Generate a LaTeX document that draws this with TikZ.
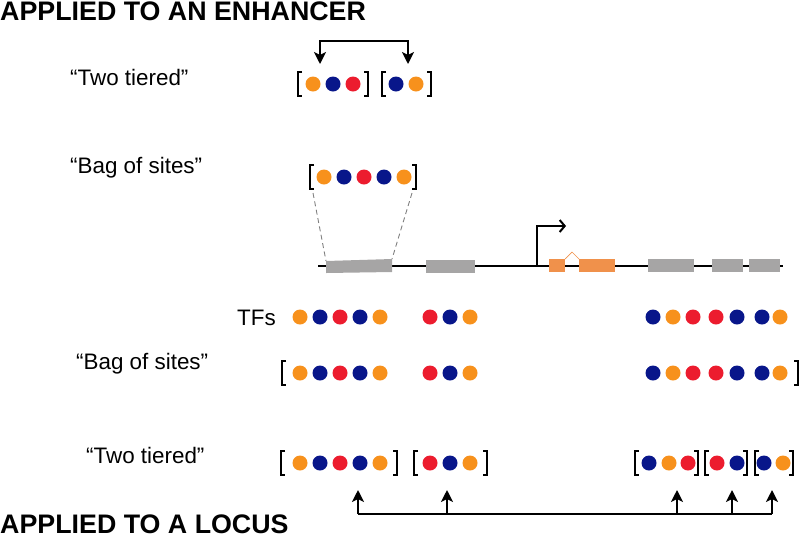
\documentclass[tikz,border=0pt]{standalone}
\usepackage{fontspec}
\setmainfont{Liberation Sans}
\usetikzlibrary{arrows.meta}
\definecolor{tfo}{RGB}{247,145,28}
\definecolor{tfb}{RGB}{8,22,138}
\definecolor{tfr}{RGB}{236,28,46}
\definecolor{boxg}{RGB}{166,165,165}
\definecolor{exo}{RGB}{240,145,75}
\tikzset{
  dot/.style={circle,fill=#1,inner sep=0pt,minimum size=15pt,draw=none},
  brk/.style={line width=2.8pt,black},
  lb/.pic={\draw[brk] (4,-12) -- (0,-12) -- (0,12) -- (4,12);},
  rb/.pic={\draw[brk] (-4,-12) -- (0,-12) -- (0,12) -- (-4,12);},
  lbl/.style={font=\fontsize{22.4}{25}\selectfont,anchor=base west,inner sep=0pt},
  ttl/.style={font=\bfseries\fontsize{26.8}{29}\selectfont,anchor=base west,inner sep=0pt},
  gbox/.style={fill=boxg,draw=none},
  ebox/.style={fill=exo,draw=none},
  conn/.style={line width=2pt,black,-{Stealth[length=12pt,width=12pt,inset=3pt]}},
  dashl/.style={gray,line width=0.9pt,dash pattern=on 5pt off 3.5pt},
}
\begin{document}
\begin{tikzpicture}[x=1pt,y=-1pt]
\useasboundingbox (0,0) rectangle (800,539);
% titles
\node[ttl] (t1) at (0,20) {APPLIED TO AN ENHANCER};
\node[ttl] (t2) at (0,533.5) {APPLIED TO A LOCUS};
% labels
\node[lbl] (l1) at (70,85) {“Two tiered”};
\node[lbl] (l2) at (70,173) {“Bag of sites”};
\node[lbl] (l3) at (237,325) {TFs};
\node[lbl] (l4) at (76,369) {“Bag of sites”};
\node[lbl] (l5) at (86,463) {“Two tiered”};
% enhancer two tiered
\pic at (298,84) {lb}; \pic at (368,84) {rb};
\pic at (382,84) {lb}; \pic at (431,84) {rb};
\node[dot=tfo] (a1) at (313,84) {};
\node[dot=tfb] (a2) at (333,84) {};
\node[dot=tfr] (a3) at (353,84) {};
\node[dot=tfb] (a4) at (396,84) {};
\node[dot=tfo] (a5) at (416,84) {};
\coordinate (ta) at (320,64);
\coordinate (tb) at (408,64);
\draw[line width=2pt,{Stealth[length=12pt,width=12pt,inset=3pt]}-{Stealth[length=12pt,width=12pt,inset=3pt]}] (ta) -- ++(0,-23) -| (tb);
% enhancer bag of sites
\pic at (310,177) {lb}; \pic at (416,177) {rb};
\node[dot=tfo] (b1) at (324,177) {};
\node[dot=tfb] (b2) at (344,177) {};
\node[dot=tfr] (b3) at (364,177) {};
\node[dot=tfb] (b4) at (384,177) {};
\node[dot=tfo] (b5) at (404,177) {};
% gene
\draw[line width=2pt] (318,266) -- (783,266);
\fill[boxg] (326,261) -- (392,259) -- (392,272) -- (326,273) -- cycle;
\coordinate (g1l) at (326,261);
\coordinate (g1r) at (392,259);
\coordinate (bl) at (313,193);
\coordinate (br) at (412,193);
\draw[dashl] (bl) -- (g1l);
\draw[dashl] (br) -- (g1r);
\fill[gbox] (426,260) rectangle (475,273);
\fill[ebox] (549,259) rectangle (565,272);
\fill[ebox] (579,259) rectangle (615,272);
\draw[exo,line width=0.7pt] (565,259) -- (572,252) -- (579,259);
\fill[gbox] (648,259) rectangle (694,272);
\fill[gbox] (712,259) rectangle (743,272);
\fill[gbox] (749,259) rectangle (780,272);
\coordinate (ps) at (537,266);
\coordinate (pe) at (566,226);
\draw[line width=2pt,-{Straight Barb[length=5pt,width=12pt,line width=2pt]}] (ps) |- (pe);
% TFs rows
\foreach \yy/\nm in {317/c,373/d}{
  \foreach \xx/\cc [count=\i] in {300/tfo,320/tfb,340/tfr,360/tfb,380/tfo,430/tfr,450/tfb,470/tfo,653/tfb,673/tfo,693/tfr,716/tfr,737/tfb,762/tfb,780/tfo}{
    \node[dot=\cc] (\nm\i) at (\xx,\yy) {};
  }
}
\pic at (282,373) {lb}; \pic at (798,373) {rb};
% locus two tiered
\pic at (281,463) {lb}; \pic at (397,463) {rb};
\pic at (414,463) {lb}; \pic at (487,463) {rb};
\pic at (635,463) {lb}; \pic at (698,463) {rb};
\pic at (705,463) {lb}; \pic at (747,463) {rb};
\pic at (755,463) {lb}; \pic at (793,463) {rb};
\foreach \xx/\cc [count=\i] in {300/tfo,320/tfb,340/tfr,360/tfb,380/tfo,430/tfr,450/tfb,470/tfo,649/tfb,669/tfo,688/tfr,717/tfr,737/tfb,764/tfb,783/tfo}{
  \node[dot=\cc] (e\i) at (\xx,463) {};
}
% locus arrows
\coordinate (h1) at (358,514);
\coordinate (h2) at (447,514);
\coordinate (h3) at (677,514);
\coordinate (h4) at (732,514);
\coordinate (h5) at (772,514);
\draw[line width=2pt] (h1) -- (h5);
\foreach \k in {1,...,5}{
  \draw[conn] (h\k) -- ++(0,-24);
}
\end{tikzpicture}
\end{document}
